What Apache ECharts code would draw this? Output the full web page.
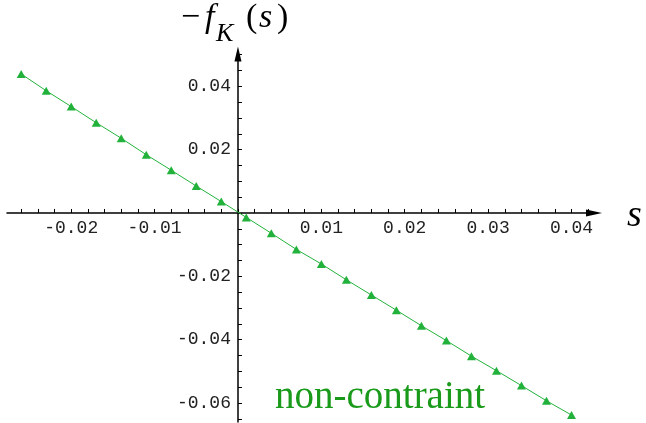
<!DOCTYPE html>
<html>
<head>
<meta charset="utf-8">
<script src="https://cdn.jsdelivr.net/npm/echarts@6/dist/echarts.min.js"></script>
<style>
  html, body { margin: 0; padding: 0; background: #fff; }
  #main { width: 646px; height: 423px; }
</style>
</head>
<body>
<div id="main"></div>
<script>
// s values (abscissa) and -f_K(s)
const sValues = [-0.026, -0.023, -0.020, -0.017, -0.014, -0.011, -0.008, -0.005, -0.002,
  0.001, 0.004, 0.007, 0.010, 0.013, 0.016, 0.019, 0.022, 0.025, 0.028, 0.031, 0.034, 0.037, 0.040];
const fValues = [0.0439, 0.0386, 0.0336, 0.0285, 0.0236, 0.0184, 0.0135, 0.0085, 0.0036,
  -0.0014, -0.0064, -0.0115, -0.0161, -0.0211, -0.0259, -0.0307, -0.0356, -0.0403, -0.0452, -0.0498, -0.0545, -0.0593, -0.0638];

// tick labels
const xTickLabels = [-0.02, -0.01, 0.01, 0.02, 0.03, 0.04];
const yTickLabels = [0.04, 0.02, -0.02, -0.04, -0.06];

const green = '#22b23c';
const textGreen = '#1a9a1a';
const monoFont = 'Liberation Mono';
const serifFont = 'Liberation Serif';

// minor tick positions
let xTicks = [], yTicks = [];
for (let k = -13; k <= 21; k++) xTicks.push(Math.round(k * 2) / 1000);
for (let k = -13; k <= 10; k++) yTicks.push(Math.round(k * 5) / 1000);

const W = 646, H = 423;
const grid = { left: 7, right: 52, top: 54, bottom: 1 };
const xMin = -0.0277, xMax = 0.0427, yMin = -0.066, yMax = 0.0502;
// move the axes so they cross at the origin
const gridW = W - grid.left - grid.right, gridH = H - grid.top - grid.bottom;
const xAxisOffset = -gridH * (0 - yMin) / (yMax - yMin);
const yAxisOffset = -gridW * (0 - xMin) / (xMax - xMin);

const chart = echarts.init(document.getElementById('main'));

const option = {
  animation: false,
  grid: Object.assign({ containLabel: false, outerBoundsMode: 'none' }, grid),
  xAxis: {
    type: 'value',
    min: xMin,
    max: xMax,
    position: 'bottom',
    offset: xAxisOffset,
    splitLine: { show: false },
    axisLine: {
      onZero: false,
      symbol: ['none', 'triangle'],
      symbolSize: [7, 16],
      lineStyle: { color: '#000', width: 1.5 }
    },
    axisTick: { show: true, inside: true, length: 4, customValues: xTicks, lineStyle: { color: '#000' } },
    axisLabel: {
      customValues: xTickLabels,
      margin: 6,
      color: '#222',
      fontFamily: monoFont,
      fontSize: 18,
      formatter: v => v.toFixed(2)
    }
  },
  yAxis: {
    type: 'value',
    min: yMin,
    max: yMax,
    position: 'left',
    offset: yAxisOffset,
    splitLine: { show: false },
    axisLine: {
      onZero: false,
      symbol: ['none', 'triangle'],
      symbolSize: [7, 15],
      lineStyle: { color: '#000', width: 1.5 }
    },
    axisTick: { show: true, inside: true, length: 4, customValues: yTicks, lineStyle: { color: '#000' } },
    axisLabel: {
      customValues: yTickLabels,
      margin: 7,
      color: '#222',
      fontFamily: monoFont,
      fontSize: 18,
      formatter: v => v.toFixed(2)
    }
  },
  series: [{
    type: 'line',
    data: sValues.map((s, i) => [s, fValues[i]]),
    symbol: 'triangle',
    symbolSize: [9, 8],
    showSymbol: true,
    lineStyle: { color: green, width: 1 },
    itemStyle: { color: green }
  }],
  graphic: [
    { type: 'text', x: 181, y: 18, style: { text: '\u2212', fontFamily: serifFont, fontSize: 34, fill: '#000', verticalAlign: 'middle' } },
    { type: 'text', x: 205, y: 18, style: { text: 'f', fontFamily: serifFont, fontStyle: 'italic', fontSize: 34, fill: '#000', verticalAlign: 'middle' } },
    { type: 'text', x: 216, y: 34, style: { text: 'K', fontFamily: serifFont, fontStyle: 'italic', fontSize: 26, fill: '#000', verticalAlign: 'middle' } },
    { type: 'text', x: 246, y: 18, style: { text: '(', fontFamily: serifFont, fontSize: 34, fill: '#000', verticalAlign: 'middle' } },
    { type: 'text', x: 259, y: 18, style: { text: 's', fontFamily: serifFont, fontStyle: 'italic', fontSize: 34, fill: '#000', verticalAlign: 'middle' } },
    { type: 'text', x: 277, y: 18, style: { text: ')', fontFamily: serifFont, fontSize: 34, fill: '#000', verticalAlign: 'middle' } },
    { type: 'text', x: 627, y: 216, style: { text: 's', fontFamily: serifFont, fontStyle: 'italic', fontSize: 38, fill: '#000', verticalAlign: 'middle' } },
    { type: 'text', x: 275, y: 398, style: { text: 'non-contraint', fontFamily: serifFont, fontSize: 39, fill: textGreen, verticalAlign: 'middle' } }
  ]
};

chart.setOption(option);
</script>
</body>
</html>
